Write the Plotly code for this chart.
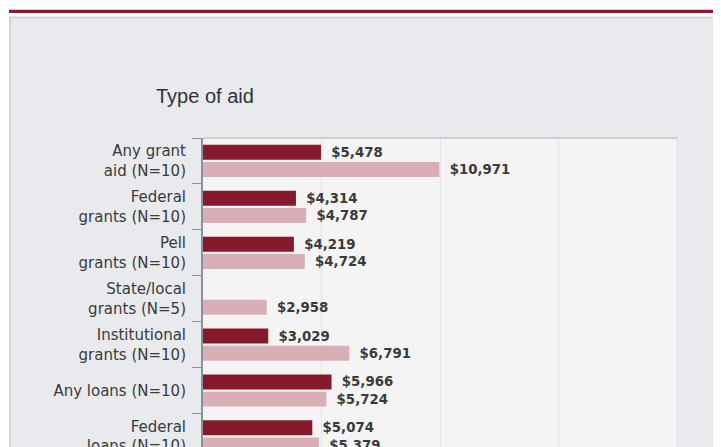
import plotly.graph_objects as go

# ---- data ----
categories = [
    "Any grant<br>aid (N=10)",
    "Federal<br>grants (N=10)",
    "Pell<br>grants (N=10)",
    "State/local<br>grants (N=5)",
    "Institutional<br>grants (N=10)",
    "Any loans (N=10)",
    "Federal<br>loans (N=10)",
]
series_a_name = "Your institution"
series_a = [5478, 4314, 4219, None, 3029, 5966, 5074]
series_b_name = "Comparison group"
series_b = [10971, 4787, 4724, 2958, 6791, 5724, 5379]
chart_title = "Type of aid"

# ---- layout geometry (pixels, figure coordinates; page adds an 8px body margin) ----
OFF = 8
W, H = 721, 447
L = 203 - OFF
T = 138 - OFF
R = W - (677 - OFF)
B = 0
PW, PH = W - L - R, H - T - B
ROW = 46.5


def xp(px):
    """window pixel x -> paper"""
    return (px - OFF - L) / PW


def yp(py):
    """window pixel y -> paper"""
    return 1 - (py - OFF - T) / PH


DARK = "#861a2c"
LIGHT = "#d8afb6"
TXT = "#3a3a3a"

fig = go.Figure()
for vals, name, col in ((series_a, series_a_name, DARK), (series_b, series_b_name, LIGHT)):
    fig.add_trace(go.Bar(
        y=categories, x=vals, name=name, orientation="h",
        marker=dict(color=col, line=dict(width=0)),
        texttemplate="\u00a0\u2009$%{x:,}", textposition="outside",
        textfont=dict(family="DejaVu Sans", size=13.3, color=TXT, weight="bold"),
        constraintext="none", cliponaxis=False,
    ))

shapes = [
    # top accent bar (as close to the top as the page allows)
    dict(type="rect", xref="paper", yref="paper", x0=xp(9), x1=xp(740), y0=yp(8), y1=yp(11.5),
         fillcolor="#8b1a2e", line=dict(width=0), layer="below"),
    # grey panel
    dict(type="rect", xref="paper", yref="paper", x0=xp(10), x1=xp(760), y0=yp(16), y1=yp(480),
         fillcolor="#e9eaee", line=dict(color="#d3d3d3", width=2), layer="below"),
    # plot area background
    dict(type="rect", xref="paper", yref="paper", x0=0, x1=1, y0=0, y1=1,
         fillcolor="#f4f4f4", line=dict(width=0), layer="below"),
    # right edge line
    dict(type="line", xref="paper", yref="paper", x0=1, x1=1, y0=0, y1=1,
         line=dict(color="#dde5ef", width=1), layer="below"),
    # top border of plot
    dict(type="line", xref="paper", yref="paper", x0=0, x1=xp(678), y0=1, y1=1,
         line=dict(color="#cfcfcf", width=2), layer="above"),
]

fig.update_layout(
    width=W, height=H,
    margin=dict(l=L, r=R, t=T, b=B, pad=0),
    paper_bgcolor="white",
    plot_bgcolor="rgba(0,0,0,0)",
    showlegend=False,
    barmode="group",
    bargap=0.25,
    bargroupgap=0.13,
    shapes=shapes,
    annotations=[dict(
        text=chart_title, xref="paper", yref="paper", x=xp(204.5), y=yp(95),
        xanchor="center", yanchor="middle", showarrow=False,
        font=dict(family="Liberation Sans, Arial", size=20, color="#333333"),
    )],
    font=dict(family="DejaVu Sans", color=TXT),
)
fig.update_xaxes(
    range=[0, 22000], dtick=5500, tick0=0,
    showgrid=True, gridcolor="#dde5ef", gridwidth=1,
    zeroline=False, showticklabels=False, showline=False, fixedrange=True,
)
fig.update_yaxes(
    categoryorder="array", categoryarray=categories,
    range=[-0.5 + PH / ROW, -0.5],
    showline=True, linecolor="#8c9099", linewidth=2,
    ticks="outside", tickson="boundaries", ticklen=9, tickwidth=1, tickcolor="#8c9099",
    ticklabelstandoff=12,
    tickfont=dict(family="DejaVu Sans", size=15, color=TXT),
    showgrid=False, zeroline=False, fixedrange=True,
)

fig.write_html("out.html")
